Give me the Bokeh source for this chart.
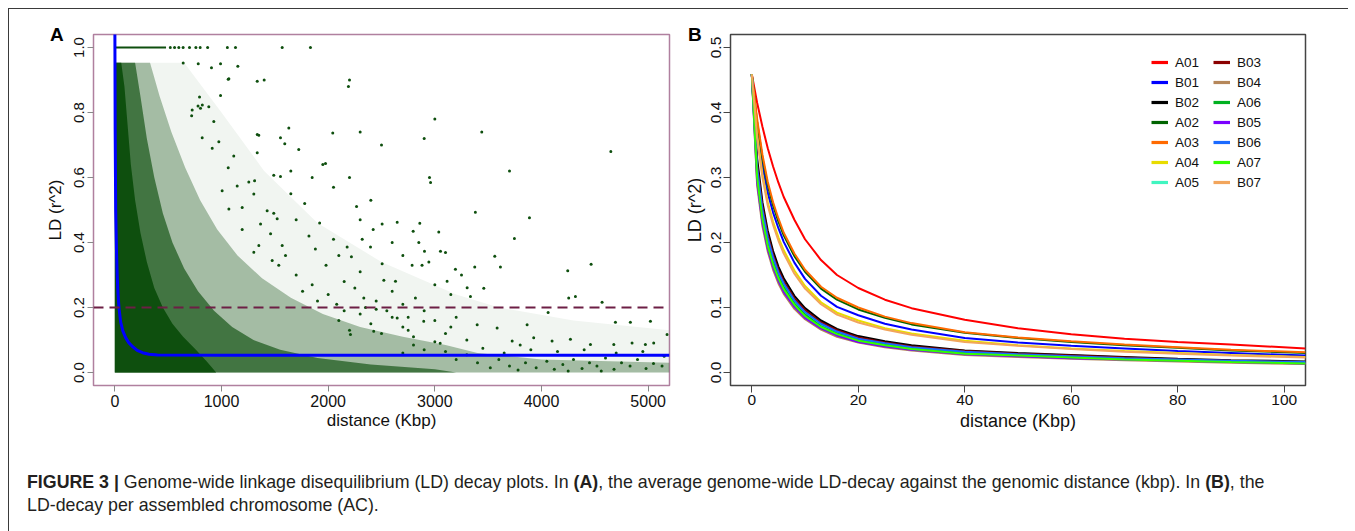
from bokeh.plotting import figure
from bokeh.models import (Range1d, FixedTicker, Span, Legend, LegendItem,
                          Div, Spacer, PrintfTickFormatter)
from bokeh.layouts import row, column
from bokeh.embed import file_html
from bokeh.resources import INLINE

FONT = "Liberation Sans"
GREEN = "#0e4f0e"

# ---------------- Panel A data ----------------
a_x_ticks = [0, 1000, 2000, 3000, 4000, 5000]
a_y_ticks = [0.0, 0.2, 0.4, 0.6, 0.8, 1.0]

# envelopes of the point cloud at decreasing point density (distance kbp, r^2)
core_dist = [0, 0, 60, 90, 120, 150, 190, 240, 300, 370, 450, 540, 640, 760, 860, 950]
core_ld = [0, 0.953, 0.953, 0.88, 0.76, 0.64, 0.53, 0.43, 0.34, 0.26, 0.2, 0.15, 0.11, 0.07, 0.035, 0]
mid_dist = [0, 0, 190, 240, 300, 370, 450, 540, 650, 780, 930, 1100, 1300, 1550, 1900, 2400, 3000, 3200]
mid_ld = [0, 0.953, 0.953, 0.85, 0.72, 0.6, 0.49, 0.4, 0.32, 0.25, 0.19, 0.14, 0.1, 0.07, 0.045, 0.025, 0.01, 0]
light_dist = [0, 0, 330, 420, 530, 660, 800, 960, 1150, 1380, 1650, 1950, 2300, 2700, 3100, 3400, 4000, 5200, 5200]
light_ld = [0, 0.953, 0.953, 0.85, 0.74, 0.63, 0.53, 0.44, 0.36, 0.29, 0.23, 0.18, 0.14, 0.11, 0.085, 0.06, 0.04, 0.03, 0]
faint_dist = [0, 0, 650, 1000, 1400, 1900, 2500, 3200, 3600, 4300, 5200, 5200]
faint_ld = [0, 0.953, 0.953, 0.8, 0.62, 0.46, 0.34, 0.24, 0.2, 0.16, 0.13, 0]

# pairs with r^2 = 1
full_line_dist = [0, 480]
full_line_ld = [1.0, 1.0]
full_pts_dist = [520, 560, 600, 640, 700, 760, 800, 870, 1055, 1131, 1569, 1834]
full_pts_ld = [1.0, 1.0, 1.0, 1.0, 1.0, 1.0, 1.0, 1.0, 1.0, 1.0, 1.0, 1.0]

# scattered pairs outside the dense cloud
outliers_upper = [
    (641, .952), (782, .95), (906, .938), (991, .95), (1153, .942), (1335, .896), (1063, .902),
    (794, .848), (991, .852), (725, .808), (803, .813), (881, .818), (1631, .752), (1335, .732),
    (1553, .722), (1593, .704), (2043, .737), (1724, .686), (1115, .666), (1335, .676), (1975, .643),
    (1490, .607), (1553, .603), (1256, .586), (1310, .59), (1063, .63), (913, .69), (975, .71),
    (928, .772), (720, .79), (1350, .73), (819, .722), (1069, .904), (820, .823), (780, .82),
    (2200, .9), (2190, .88), (2950, .6), (2960, .585), (3440, .74), (4650, .68), (1950, .64),
    (2900, .72), (3700, .62), (2500, .7), (2300, .74), (3000, .78), (1400, .9),
]
outliers_mid = [
    (1147, .574), (1303, .549), (1428, .498), (1490, .49), (1194, .508), (1006, .559), (1069, .503),
    (1366, .457), (1522, .473), (1194, .44), (1460, .427), (1569, .391), (1350, .391), (1303, .37),
    (1475, .345), (1537, .33), (2266, .511), (3380, .493), (3887, .476), (3746, .412), (2506, .457),
    (2647, .462), (2422, .44), (2859, .459), (2797, .435), (3037, .432), (3100, .369), (2319, .41),
    (2178, .386), (2397, .386), (2903, .373), (3053, .373), (3562, .358), (2218, .356), (2506, .335),
    (2787, .33), (3615, .325), (4465, .333), (4246, .313), (3374, .325), (3193, .318), (2944, .34),
    (2880, .33), (2522, .284), (2631, .281), (3115, .281), (3303, .261), (3459, .259), (2334, .229),
    (2818, .229), (3334, .234), (4255, .229), (4318, .234), (4568, .216),
    (1650, .55), (1700, .47), (1780, .52), (1820, .42), (1880, .38), (1920, .46), (1980, .33),
    (2050, .41), (2100, .36), (2150, .28), (1600, .36), (1700, .30), (1760, .25), (1850, .27),
    (1900, .22), (2000, .24), (2080, .21), (2250, .26), (2300, .31), (2350, .2), (2450, .22),
    (2550, .19), (2600, .25), (2700, .21), (2750, .17), (1650, .62), (1850, .6), (2050, .57),
    (2200, .6), (2300, .47), (2400, .53), (2600, .4), (2700, .36), (2850, .4), (3000, .27),
    (3150, .24), (3250, .3),
]
outliers_low = [
    (4833, .155), (4693, .155), (5021, .158), (5177, .117), (4062, .185), (3865, .147), (3584, .137),
    (3397, .147), (2647, .168), (2896, .158), (2427, .127), (2209, .117), (4678, .086), (4849, .091),
    (4974, .086), (5052, .091), (4459, .086), (4271, .102), (4099, .097), (3927, .107), (3725, .097),
    (3400, .03), (3520, .015), (3600, .04), (3700, .02), (3780, .008), (3850, .03), (3950, .015),
    (4050, .035), (4120, .01), (4200, .025), (4300, .04), (4380, .012), (4450, .03), (4520, .02),
    (4600, .045), (4680, .01), (4750, .03), (4830, .02), (4900, .04), (4980, .012), (5050, .028),
    (5130, .02), (4560, .005), (4250, .005), (3650, .06), (3900, .07), (4150, .065), (4400, .07),
    (4700, .06), (4950, .065), (3450, .075), (3800, .085), (5150, .05),
    (2100, .16), (2200, .13), (2300, .18), (2400, .15), (2500, .12), (2600, .17), (2700, .14),
    (2800, .11), (2900, .19), (3000, .16), (3100, .12), (3200, .17), (3300, .1), (2150, .19),
    (2450, .195), (2750, .13), (3050, .09), (3150, .14), (2700, .06), (2900, .07), (3100, .065),
    (3200, .04), (3300, .055), (2800, .085), (3000, .095),
]

# genome-wide decay curve
decay_dist = [0, 3, 8, 15, 22, 30, 40, 55, 75, 100, 130, 165, 210, 260, 320, 400, 1000, 2000, 3000, 4000, 5200]
decay_ld = [1.1, 0.75, 0.5, 0.38, 0.3, 0.24, 0.195, 0.155, 0.128, 0.108, 0.092, 0.08, 0.068, 0.061, 0.056, 0.054,
            0.053, 0.053, 0.053, 0.053, 0.053]
threshold = 0.2

# ---------------- Panel B data ----------------
b_x_ticks = [0, 20, 40, 60, 80, 100]
b_y_ticks = [0.0, 0.1, 0.2, 0.3, 0.4, 0.5]
b_dist = [0, 1, 2, 3, 4, 5, 6, 8, 10, 13, 16, 20, 25, 30, 40, 50, 60, 70, 80, 90, 104]

A01 = [.459, .415, .378, .345, .317, .292, .270, .235, .205, .173, .150, .130, .112, .099, .081, .068, .059, .052, .047, .043, .037]
B01 = [.459, .375, .318, .276, .246, .222, .201, .169, .144, .118, .101, .088, .075, .066, .053, .046, .041, .037, .033, .030, .026]
B02 = [.459, .33, .262, .218, .187, .163, .145, .118, .099, .080, .067, .056, .048, .042, .034, .030, .027, .024, .021, .019, .017]
A02 = [.459, .385, .330, .288, .257, .232, .211, .179, .155, .129, .112, .097, .084, .074, .061, .053, .047, .042, .038, .034, .030]
A03 = [.459, .39, .335, .293, .262, .237, .215, .183, .158, .132, .115, .100, .086, .076, .062, .054, .048, .043, .039, .035, .031]
A04 = [.459, .365, .305, .262, .232, .208, .188, .157, .133, .108, .092, .080, .068, .060, .049, .042, .037, .033, .030, .027, .024]
A05 = [.459, .31, .245, .203, .173, .151, .134, .109, .091, .073, .062, .051, .044, .038, .031, .027, .024, .022, .019, .017, .015]
B03 = [.459, .32, .255, .212, .181, .158, .140, .114, .096, .077, .065, .054, .046, .040, .033, .029, .026, .023, .020, .018, .016]
B04 = [.459, .288, .225, .186, .158, .137, .121, .098, .082, .066, .055, .046, .039, .034, .027, .024, .021, .019, .017, .015, .013]
A06 = [.459, .305, .24, .199, .170, .148, .131, .106, .089, .071, .060, .050, .043, .037, .030, .026, .023, .021, .019, .017, .015]
B05 = [.459, .293, .230, .190, .162, .141, .124, .101, .084, .068, .057, .047, .040, .035, .028, .025, .022, .020, .018, .016, .014]
B06 = [.459, .315, .25, .207, .177, .154, .137, .111, .093, .075, .063, .052, .045, .039, .032, .028, .025, .022, .020, .018, .016]
A07 = [.459, .30, .236, .195, .166, .145, .128, .104, .087, .070, .059, .049, .042, .036, .029, .026, .023, .020, .018, .016, .014]
B07 = [.459, .36, .30, .257, .227, .203, .183, .152, .129, .105, .089, .077, .066, .058, .047, .041, .036, .032, .029, .026, .023]

chrom_names = ["A01", "B01", "B02", "A02", "A03", "A04", "A05",
               "B03", "B04", "A06", "B05", "B06", "A07", "B07"]
chrom_values = [A01, B01, B02, A02, A03, A04, A05, B03, B04, A06, B05, B06, A07, B07]
chrom_colors = ["#ff0000", "#0000ff", "#000000", "#006400", "#ff6a00", "#e8dc00", "#40f5c0",
                "#8b0000", "#b5875a", "#00b020", "#7a00ff", "#1a6aff", "#33ff00", "#f2a55c"]


def style_axis(ax, tick_color, tick_len, lab_size, lab_standoff, title, title_size, title_standoff):
    ax.axis_line_color = None
    ax.major_tick_line_color = tick_color
    ax.major_tick_line_width = 1
    ax.major_tick_out = tick_len
    ax.major_tick_in = 0
    ax.minor_tick_line_color = None
    ax.major_label_text_font = FONT
    ax.major_label_text_font_size = lab_size
    ax.major_label_text_color = "#111111"
    ax.major_label_standoff = lab_standoff
    ax.axis_label = title
    ax.axis_label_text_font = FONT
    ax.axis_label_text_font_size = title_size
    ax.axis_label_text_font_style = "normal"
    ax.axis_label_text_color = "#111111"
    ax.axis_label_standoff = title_standoff


# ---------------- Panel A ----------------
pA = figure(width=666, height=441, x_range=Range1d(-200, 5200), y_range=Range1d(-0.04, 1.04),
            output_backend="svg", toolbar_location=None,
            min_border_left=84, min_border_right=6, min_border_top=25, min_border_bottom=62)
pA.grid.visible = False
pA.outline_line_color = "#b0809f"
pA.outline_line_width = 1.5
pA.xaxis.ticker = FixedTicker(ticks=a_x_ticks)
pA.yaxis.ticker = FixedTicker(ticks=a_y_ticks)
pA.yaxis.formatter = PrintfTickFormatter(format="%.1f")
pA.yaxis.major_label_orientation = "vertical"
style_axis(pA.xaxis[0], "#888888", 6, "16px", 3, "distance (Kbp)", "17px", 1)
style_axis(pA.yaxis[0], "#888888", 6, "15px", 4, "LD (r^2)", "17px", 6)

pA.patch(faint_dist, faint_ld, fill_color=GREEN, fill_alpha=0.06, line_color=None)
pA.patch(light_dist, light_ld, fill_color=GREEN, fill_alpha=0.34, line_color=None)
pA.patch(mid_dist, mid_ld, fill_color=GREEN, fill_alpha=0.65, line_color=None)
pA.patch(core_dist, core_ld, fill_color=GREEN, fill_alpha=1.0, line_color=None)
for pts in (outliers_upper, outliers_mid, outliers_low):
    pA.scatter([p[0] for p in pts], [p[1] for p in pts], marker="circle", size=3,
               fill_color=GREEN, line_color=None)
pA.line(full_line_dist, full_line_ld, line_color=GREEN, line_width=2)
pA.scatter(full_pts_dist, full_pts_ld, marker="circle", size=3, fill_color=GREEN, line_color=None)
pA.line(decay_dist, decay_ld, line_color="#0000ff", line_width=3)
pA.add_layout(Span(location=threshold, dimension="width", line_color="#6d1f45",
                   line_width=2.2, line_dash="10 6"))

# ---------------- Panel B ----------------
pB = figure(width=672, height=441, x_range=Range1d(-4, 104), y_range=Range1d(-0.02, 0.52),
            output_backend="svg", toolbar_location=None,
            min_border_left=55, min_border_right=42, min_border_top=18, min_border_bottom=65)
pB.grid.visible = False
pB.outline_line_color = "#444444"
pB.outline_line_width = 1.5
pB.xaxis.ticker = FixedTicker(ticks=b_x_ticks)
pB.yaxis.ticker = FixedTicker(ticks=b_y_ticks)
pB.yaxis.formatter = PrintfTickFormatter(format="%.1f")
pB.yaxis.major_label_orientation = "vertical"
style_axis(pB.xaxis[0], "#444444", 7, "15.5px", 2, "distance (Kbp)", "18px", 3)
style_axis(pB.yaxis[0], "#444444", 7, "15.5px", 3, "LD (r^2)", "18px", 3)

legend_handles = {}
for name, vals, col in zip(chrom_names, chrom_values, chrom_colors):
    pB.line(b_dist, vals, line_color=col, line_width=2)
    # off-frame handle used only for the legend swatch
    legend_handles[name] = pB.line(x=[-60, -50], y=[-1, -1], line_color=col, line_width=3.2)

legend1 = Legend(items=[LegendItem(label=n, renderers=[legend_handles[n]]) for n in chrom_names[:7]],
                 location=(421, 193))
legend2 = Legend(items=[LegendItem(label=n, renderers=[legend_handles[n]]) for n in chrom_names[7:]],
                 location=(483, 193))
for lg in (legend1, legend2):
    lg.padding = 0
    lg.margin = 0
    lg.spacing = 0
    lg.glyph_width = 17
    lg.glyph_height = 20
    lg.label_height = 20
    lg.label_standoff = 7
    lg.label_text_font = FONT
    lg.label_text_font_size = "13.5px"
    lg.label_text_color = "#111111"
    lg.border_line_color = None
    lg.background_fill_alpha = 0
    pB.add_layout(lg)

# ---------------- caption, panel letters & frame ----------------
LETTER = ("position:absolute; top:-430px; font-family:'Liberation Sans', Arial, sans-serif; "
          "font-size:19px; line-height:19px; font-weight:bold; color:#000;")
caption_html = (
    '<div style="padding:16px 0 0 13px; font-family:\'Liberation Sans\', Arial, sans-serif; '
    'font-size:17.8px; line-height:23px; white-space:nowrap; color:#231f20;">'
    '<b>FIGURE 3 |</b> Genome-wide linkage disequilibrium (LD) decay plots. In <b>(A)</b>, '
    'the average genome-wide LD-decay against the genomic distance (kbp). In <b>(B)</b>, the<br>'
    'LD-decay per assembled chromosome (AC).</div>'
    '<span style="left:36px; ' + LETTER + '">A</span>'
    '<span style="left:674px; ' + LETTER + '">B</span>'
)
cap = Div(text=caption_html, width=1338, height=81)

FRAME = "#3a3a3a"
top_line = Spacer(width=1340, height=1, styles={"background-color": FRAME})
left_line = Spacer(width=1, height=522, styles={"background-color": FRAME})
right_line = Spacer(width=1, height=522, styles={"background-color": FRAME})

inner = column(row(pA, pB), cap)
framed = column(top_line, row(left_line, inner, right_line))
page = column(Spacer(width=1355, height=8), row(Spacer(width=8, height=523), framed))

open("out.html", "w").write(file_html(page, INLINE, title="LD decay"))
